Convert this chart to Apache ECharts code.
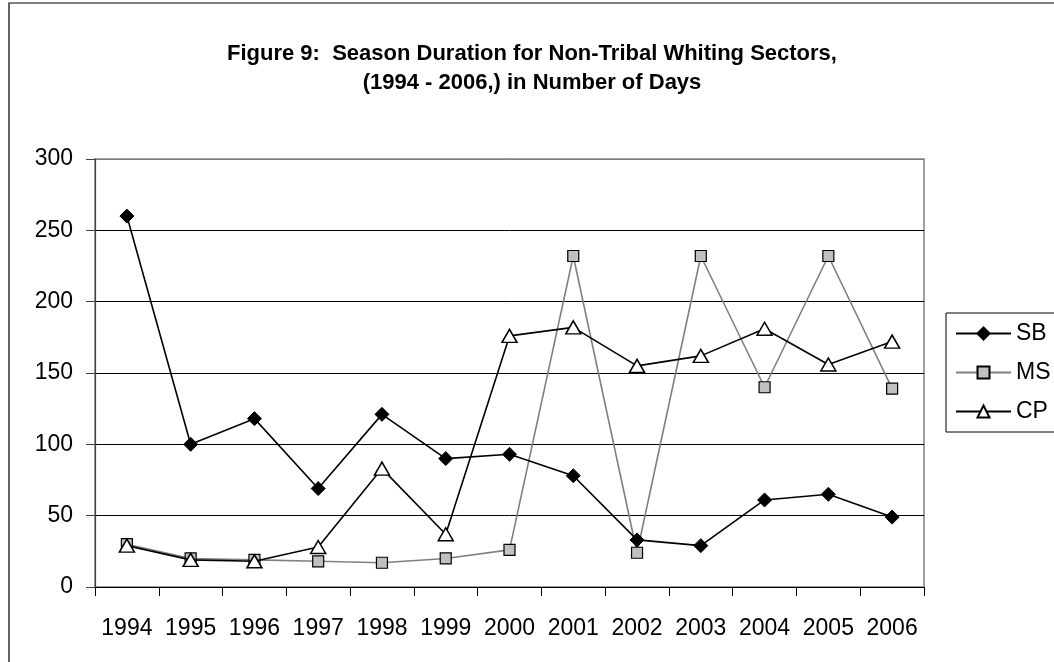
<!DOCTYPE html>
<html>
<head>
<meta charset="utf-8">
<script src="https://cdn.jsdelivr.net/npm/echarts@6/dist/echarts.min.js"></script>
<style>
  html, body { margin: 0; padding: 0; background: #fff; }
  #chart { width: 1054px; height: 662px; }
</style>
</head>
<body>
<div id="chart"></div>
<script>
// Season lengths (days) by sector, 1994-2006
const years = ['1994','1995','1996','1997','1998','1999','2000','2001','2002','2003','2004','2005','2006'];
const sb = [260, 100, 118, 69, 121, 90, 93, 78, 33, 29, 61, 65, 49];
const ms = [30, 20, 19, 18, 17, 20, 26, 232, 24, 232, 140, 232, 139];
const cp = [29, 19, 18, 28, 83, 37, 176, 182, 155, 162, 181, 156, 172];

const FONT = '"Liberation Sans", Arial, sans-serif';

const chart = echarts.init(document.getElementById('chart'), null, { renderer: 'canvas' });

chart.setOption({
  backgroundColor: '#fff',
  animation: false,
  textStyle: { fontFamily: FONT },
  title: {
    text: 'Figure 9:  Season Duration for Non-Tribal Whiting Sectors,\n(1994 - 2006,) in Number of Days',
    left: 527,
    textAlign: 'center',
    top: 34,
    textStyle: {
      fontFamily: FONT,
      fontWeight: 'bold',
      fontSize: 22,
      lineHeight: 29,
      color: '#000'
    }
  },
  legend: {
    orient: 'vertical',
    left: 946,
    top: 313,
    padding: [9, 60, 9, 9],
    itemWidth: 55,
    itemHeight: 15,
    itemGap: 16,
    borderColor: '#000',
    borderWidth: 1,
    textStyle: { fontFamily: FONT, fontSize: 23, color: '#000' },
    data: ['SB', 'MS', 'CP']
  },
  grid: {
    left: 95,
    right: 130,
    top: 159,
    bottom: 75,
    show: true,
    borderColor: '#808080',
    borderWidth: 1.5
  },
  xAxis: {
    type: 'category',
    data: years,
    boundaryGap: true,
    axisLine: { lineStyle: { color: '#000', width: 1.2 } },
    axisTick: { show: true, length: 9, interval: 0, lineStyle: { color: '#000' } },
    axisLabel: { color: '#000', fontSize: 23, margin: 30, interval: 0, fontFamily: FONT }
  },
  yAxis: {
    type: 'value',
    min: 0,
    max: 300,
    interval: 50,
    axisLine: { show: true, lineStyle: { color: '#404040', width: 1.2 } },
    axisTick: { show: true, length: 9, lineStyle: { color: '#404040' } },
    axisLabel: { color: '#000', fontSize: 23, margin: 22, fontFamily: FONT },
    splitLine: {
      show: true,
      lineStyle: { color: ['#000', '#000', '#000', '#000', '#000', '#000', '#808080'], width: 1 }
    }
  },
  series: [
    {
      name: 'SB',
      type: 'line',
      data: sb,
      z: 4,
      symbol: 'diamond',
      symbolSize: 14,
      lineStyle: { color: '#000', width: 1.6 },
      itemStyle: { color: '#000', borderColor: '#000', borderWidth: 1 }
    },
    {
      name: 'MS',
      type: 'line',
      data: ms,
      z: 3,
      symbol: 'rect',
      symbolSize: 11,
      lineStyle: { color: '#808080', width: 1.6 },
      itemStyle: { color: '#c0c0c0', borderColor: '#000', borderWidth: 1.2 }
    },
    {
      name: 'CP',
      type: 'line',
      data: cp,
      z: 5,
      symbol: 'triangle',
      symbolSize: [15, 13],
      lineStyle: { color: '#000', width: 1.6 },
      itemStyle: { color: '#fff', borderColor: '#000', borderWidth: 1.5 }
    }
  ],
  graphic: [
    {
      type: 'rect',
      silent: true,
      z: -1,
      shape: { x: 9, y: 3, width: 1100, height: 700 },
      style: { fill: 'none', stroke: '#000', lineWidth: 1.2 }
    }
  ]
});
</script>
</body>
</html>
